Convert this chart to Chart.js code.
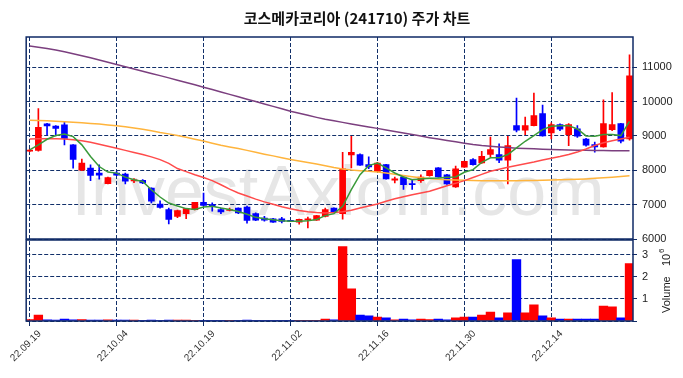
<!DOCTYPE html>
<html>
<head>
<meta charset="utf-8">
<script src="https://cdn.jsdelivr.net/npm/chart.js@4.4.1/dist/chart.umd.min.js"></script>
<style>
  html, body { margin: 0; padding: 0; background: #fff; }
  #wrap { width: 683px; height: 378px; position: relative; }
</style>
</head>
<body>
<div id="wrap"><canvas id="stockChart"></canvas></div>
<script>
const tickIndex = [0, 10, 20, 30, 40, 50, 60];
const tickDates = ["22.09.19", "22.10.04", "22.10.19", "22.11.02", "22.11.16", "22.11.30", "22.12.14"];
const priceTicks = [6000, 7000, 8000, 9000, 10000, 11000];
const volumeTicks = [0, 1, 2, 3];

const openPrice = [8555, 8575, 9350, 9290, 9320, 8740, 8000, 8063, 7920, 7610,
  7920, 7890, 7690, 7710, 7480, 7020, 6860, 6660, 6740, 6855,
  7065, 7000, 6855, 6830, 6900, 6930, 6740, 6610, 6590, 6590,
  6540, 6490, 6555, 6550, 6660, 6900, 6740, 8450, 8460, 8165,
  7970, 8165, 7710, 7800, 7615, 7700, 7845, 8070, 7865, 7515,
  8090, 8310, 8215, 8460, 8460, 8295, 9300, 9165, 9300, 9650,
  9090, 9330, 9040, 9210, 8910, 8750, 8680, 9180, 9360, 8910];
const highPrice = [8610, 9800, 9370, 9300, 9415, 8750, 8325, 8160, 8160, 7800,
  7960, 7920, 7760, 7730, 7490, 7110, 6900, 6840, 6890, 7070,
  7340, 7050, 6900, 6900, 6910, 6960, 6760, 6660, 6600, 6630,
  6545, 6580, 6640, 6690, 6900, 6910, 8520, 8990, 8480, 8390,
  8230, 8170, 7800, 7810, 7730, 7870, 8000, 8080, 7880, 8120,
  8270, 8340, 8555, 8970, 8770, 8990, 10100, 9550, 10250, 9900,
  9380, 9350, 9360, 9300, 8930, 8820, 10050, 10260, 9370, 11360];
const lowPrice = [8540, 8560, 9030, 9000, 8740, 8060, 7990, 7696, 7740, 7600,
  7840, 7600, 7640, 7610, 7050, 6900, 6440, 6620, 6590, 6850,
  6960, 6810, 6740, 6820, 6740, 6460, 6530, 6520, 6480, 6470,
  6505, 6430, 6320, 6540, 6640, 6770, 6580, 8070, 8140, 8050,
  7960, 7740, 7630, 7440, 7440, 7650, 7830, 7800, 7590, 7500,
  8080, 8150, 8200, 8390, 8220, 7600, 9115, 9040, 9290, 8990,
  8910, 9150, 8720, 8960, 8700, 8530, 8670, 9150, 8800, 8880];
const closePrice = [8585, 9250, 9290, 9220, 8930, 8320, 8210, 7850, 7860, 7790,
  7860, 7680, 7720, 7630, 7100, 6920, 6570, 6830, 6885, 7065,
  6980, 6950, 6790, 6860, 6760, 6540, 6550, 6550, 6490, 6510,
  6510, 6570, 6590, 6680, 6860, 6780, 8040, 8520, 8150, 8100,
  8210, 7750, 7750, 7580, 7580, 7800, 7990, 7810, 7600, 8040,
  8260, 8165, 8410, 8605, 8295, 8720, 9165, 9300, 9590, 9000,
  9330, 9200, 9330, 8990, 8730, 8680, 9360, 9330, 8850, 10750];

// volume in millions of shares
const volume = [0.06, 0.27, 0.05, 0.04, 0.09, 0.05, 0.06, 0.04, 0.04, 0.05,
  0.04, 0.04, 0.04, 0.03, 0.04, 0.03, 0.04, 0.04, 0.04, 0.03,
  0.03, 0.03, 0.02, 0.01, 0.03, 0.04, 0.03, 0.03, 0.03, 0.03,
  0.03, 0.03, 0.03, 0.03, 0.09, 0.05, 3.38, 1.46, 0.27, 0.23,
  0.18, 0.14, 0.05, 0.09, 0.05, 0.09, 0.06, 0.09, 0.05, 0.14,
  0.18, 0.18, 0.27, 0.41, 0.14, 0.37, 2.79, 0.37, 0.73, 0.23,
  0.14, 0.09, 0.09, 0.09, 0.09, 0.09, 0.68, 0.64, 0.14, 2.6];

const ma5 = [8594, 8740, 8903, 9010, 9058, 8980, 8740, 8400, 8110, 7947,
  7918, 7800, 7725, 7676, 7435, 7222, 7048, 6960, 6885, 6860,
  6930, 6950, 6900, 6860, 6800, 6720, 6630, 6590, 6560, 6530,
  6520, 6515, 6530, 6570, 6680, 6738, 6951, 7437, 7874, 8136,
  8213, 8068, 7922, 7806, 7728, 7748, 7767, 7777, 7796, 7806,
  7942, 8019, 8230, 8362, 8362, 8459, 8652, 8845, 9010, 9184,
  9280, 9300, 9300, 9203, 9000, 8990, 9040, 9040, 9010, 9425];
const ma20 = [8910, 8915, 8915, 8915, 8910, 8890, 8860, 8815, 8760, 8700,
  8640, 8580, 8520, 8460, 8390, 8310, 8200, 8050, 7960, 7870,
  7790, 7700, 7580, 7450, 7340, 7250, 7160, 7080, 7010, 6940,
  6880, 6830, 6790, 6770, 6760, 6770, 6790, 6840, 6900, 6960,
  7020, 7100, 7170, 7230, 7290, 7340, 7390, 7470, 7550, 7620,
  7700, 7790, 7880, 7970, 8030, 8090, 8140, 8190, 8240, 8300,
  8350, 8400, 8460, 8530, 8620, 8720, 8800, 8860, 8910, 8960];
const ma60 = [9460, 9452, 9442, 9430, 9415, 9400, 9383, 9365, 9345, 9320,
  9295, 9265, 9230, 9195, 9150, 9100, 9060, 9010, 8960, 8905,
  8850, 8790, 8730, 8680, 8635, 8580, 8525, 8470, 8420, 8365,
  8315, 8270, 8225, 8180, 8130, 8080, 8040, 8010, 7990, 7970,
  7950, 7920, 7885, 7850, 7815, 7785, 7760, 7740, 7725, 7715,
  7708, 7702, 7698, 7695, 7695, 7695, 7698, 7702, 7706, 7710,
  7715, 7722, 7730, 7740, 7750, 7765, 7780, 7800, 7820, 7840];
const ma120 = [11620, 11585, 11545, 11500, 11450, 11395, 11335, 11275, 11210, 11145,
  11080, 11015, 10950, 10885, 10820, 10755, 10690, 10620, 10555, 10490,
  10420, 10350, 10280, 10210, 10140, 10070, 10000, 9930, 9860, 9790,
  9720, 9660, 9600, 9540, 9485, 9440, 9395, 9350, 9305, 9260,
  9220, 9175, 9130, 9085, 9040, 8995, 8950, 8910, 8870, 8830,
  8790, 8750, 8720, 8700, 8680, 8660, 8645, 8635, 8625, 8615,
  8605, 8595, 8590, 8585, 8580, 8578, 8575, 8572, 8570, 8568];

const upColor = "#ff0000";
const downColor = "#0000ff";
const gridColor = "#12306a";
const frameColor = "#0f2a66";
const tickFont = { family: "'Liberation Sans', Arial, sans-serif", size: 11 };

const dayIndex = closePrice.map((c, i) => i);
const candleColor = closePrice.map((c, i) => (c >= openPrice[i] ? upColor : downColor));

function maLine(values, color) {
  return {
    type: "line",
    data: values.map((v, i) => ({ x: i, y: v })),
    borderColor: color,
    borderWidth: 1.5,
    pointRadius: 0,
    yAxisID: "y",
    order: 0,
  };
}

const chartDecor = {
  id: "chartDecor",
  beforeDraw(chart) {
    const ctx = chart.ctx;
    ctx.save();
    ctx.font = "70px 'Liberation Sans', Arial, sans-serif";
    ctx.textAlign = "center";
    ctx.textBaseline = "alphabetic";
    ctx.fillStyle = "#e6e6e6";
    ctx.fillText("InvestAxiom.com", 338, 215);
    ctx.restore();
  },
  afterDraw(chart) {
    const ctx = chart.ctx;
    const area = chart.chartArea;
    const yP = chart.scales.y;
    const yV = chart.scales.yv;
    ctx.save();
    ctx.fillStyle = "#111";
    ctx.font = "bold 15px 'Noto Sans CJK KR', sans-serif";
    ctx.textAlign = "center";
    ctx.textBaseline = "middle";
    ctx.fillText("코스메카코리아 (241710) 주가 차트", 357, 18);

    // panel frames
    ctx.strokeStyle = frameColor;
    ctx.lineWidth = 1.5;
    ctx.strokeRect(area.left, yP.top, area.right - area.left, yP.bottom - yP.top);
    ctx.strokeRect(area.left, yV.top + 1, area.right - area.left, yV.bottom - yV.top - 1);

    // volume axis title
    ctx.fillStyle = "#222";
    ctx.translate(667, 313);
    ctx.rotate(-Math.PI / 2);
    ctx.textAlign = "left";
    ctx.font = "11px 'Liberation Sans', Arial, sans-serif";
    ctx.fillText("Volume", 0, 0);
    ctx.fillText("10", 47, 0);
    ctx.font = "8px 'Liberation Sans', Arial, sans-serif";
    ctx.fillText("6", 60, -5);
    ctx.restore();
  },
};

new Chart(document.getElementById("stockChart"), {
  type: "bar",
  data: {
    datasets: [
      maLine(ma5, "#3a9a3a"),
      maLine(ma20, "#ff4b4b"),
      maLine(ma60, "#ffb43c"),
      maLine(ma120, "#7b3f7f"),
      {
        data: dayIndex.map((i) => ({ x: i, y: [openPrice[i], closePrice[i]] })),
        backgroundColor: candleColor,
        barThickness: 6,
        grouped: false,
        yAxisID: "y",
        order: 1,
      },
      {
        data: dayIndex.map((i) => ({ x: i, y: [lowPrice[i], highPrice[i]] })),
        backgroundColor: candleColor,
        barThickness: 1,
        grouped: false,
        yAxisID: "y",
        order: 2,
      },
      {
        data: dayIndex.map((i) => ({ x: i, y: volume[i] })),
        backgroundColor: candleColor,
        barThickness: 8.7,
        grouped: false,
        yAxisID: "yv",
        order: 1,
      },
    ],
  },
  options: {
    responsive: true,
    maintainAspectRatio: false,
    animation: false,
    devicePixelRatio: 1,
    layout: { padding: { left: 26, top: 37, right: 0, bottom: 0 } },
    plugins: {
      legend: { display: false },
      tooltip: { enabled: false },
    },
    scales: {
      x: {
        type: "linear",
        min: -0.4,
        max: 69.4,
        offset: false,
        afterBuildTicks: (scale) => {
          scale.ticks = tickIndex.map((v) => ({ value: v }));
        },
        afterFit: (scale) => {
          scale.height = 57;
        },
        ticks: {
          autoSkip: false,
          maxRotation: 45,
          minRotation: 45,
          labelOffset: 10,
          padding: 2,
          color: "#333",
          font: { family: tickFont.family, size: 10 },
          callback: (v) => tickDates[tickIndex.indexOf(v)] || "",
        },
        grid: { color: gridColor, tickColor: frameColor, tickLength: 5, offset: false },
        border: { display: false, dash: [4, 2] },
      },
      y: {
        type: "linear",
        position: "right",
        stack: "panels",
        stackWeight: 202,
        min: 6000,
        max: 11880,
        afterBuildTicks: (scale) => {
          scale.ticks = priceTicks.map((v) => ({ value: v }));
        },
        afterFit: (scale) => {
          scale.width = 50;
        },
        ticks: { color: "#222", font: tickFont, padding: 5, callback: (v) => String(v) },
        grid: { color: gridColor, tickColor: frameColor, tickLength: 4 },
        border: { display: false, dash: [4, 2] },
      },
      yv: {
        type: "linear",
        position: "right",
        stack: "panels",
        stackWeight: 82,
        min: 0,
        max: 3.72,
        afterBuildTicks: (scale) => {
          scale.ticks = volumeTicks.map((v) => ({ value: v }));
        },
        afterFit: (scale) => {
          scale.width = 50;
        },
        ticks: {
          color: "#222",
          font: tickFont,
          padding: 5,
          callback: (v) => (v === 0 ? "" : String(v)),
        },
        grid: { color: gridColor, tickColor: frameColor, tickLength: 4 },
        border: { display: false, dash: [4, 2] },
      },
    },
  },
  plugins: [chartDecor],
});
</script>
</body>
</html>
